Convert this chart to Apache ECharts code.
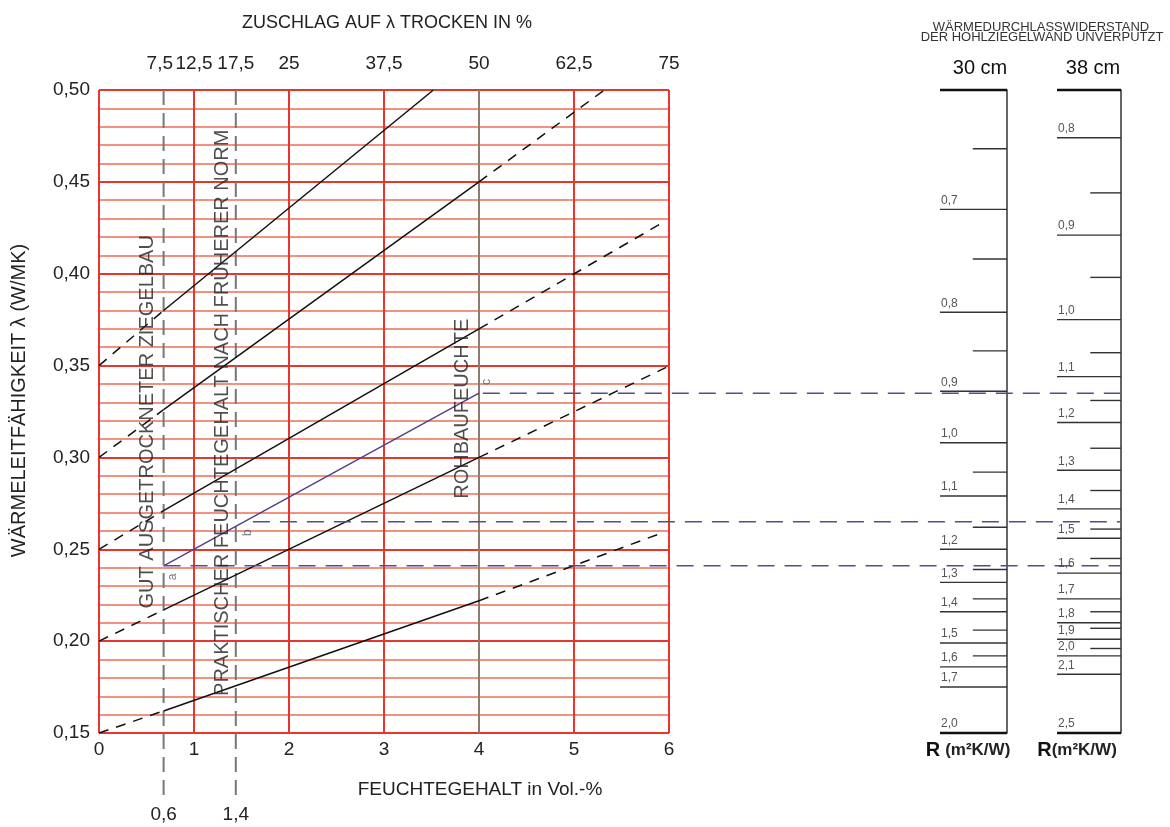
<!DOCTYPE html>
<html>
<head>
<meta charset="utf-8">
<script src="https://cdn.jsdelivr.net/npm/echarts@6/dist/echarts.min.js"></script>
<style>html,body{margin:0;padding:0;background:#fff}#c{width:1170px;height:827px}</style>
</head>
<body>
<div id="c"></div>
<script>
// ---------- data ----------
const xTickLabels = ['0','1','2','3','4','5','6'];
const topTickPos = [0.64, 1, 1.44, 2, 3, 4, 5, 6];
const topTickLabels = ['7,5','12,5','17,5','25','37,5','50','62,5','75'];
const markPos = [0.68, 1.44];
const markLabels = ['0,6','1,4'];
const markLineBottom = 0.116;

// lambda lines: points and style of each segment
const line035 = [[0,0.35],[0.68,0.38],[3.52,0.50]];
const style035 = ['dashed','solid'];
const line030 = [[0,0.30],[0.68,0.326],[4,0.45],[5.32,0.50]];
const style030 = ['dashed','solid','dashed'];
const line025 = [[0,0.25],[0.68,0.271],[4,0.37],[5.94,0.428]];
const style025 = ['dashed','solid','dashed'];
const line020 = [[0,0.20],[0.68,0.217],[4,0.30],[5.97,0.349]];
const style020 = ['dashed','solid','dashed'];
const line015 = [[0,0.15],[0.68,0.162],[4,0.222],[5.93,0.259]];
const style015 = ['dashed','solid','dashed'];
const linePurple = [[0.68,0.241],[4,0.335]];

// horizontal reference levels (lambda) carried over to the R scales
const refLevels = [0.335, 0.265, 0.241];
const refStarts = [4.04, 1.62, 0.68];
const refEnd = 10.75;

// annotations
const annoText = ['GUT AUSGETROCKNETER ZIEGELBAU','PRAKTISCHER FEUCHTEGEHALT NACH FRÜHERER NORM','ROHBAUFEUCHTE'];
const annoPos = [[0.515,0.3194],[1.30,0.3243],[3.83,0.3265]];
const letterText = ['a','b','c'];
const letterPos = [[0.78,0.235],[1.57,0.259],[4.08,0.341]];

// R scales (tick position expressed on the lambda axis), kind: 0 major, 1 minor, 2 end
const r30Pos = [0.50,0.468,0.435,0.408,0.379,0.358,0.336,0.308,0.292,0.279,0.262,0.250,0.239,0.232,0.223,0.216,0.206,0.199,0.192,0.186,0.175,0.15];
const r30Kind = [2,1,0,1,0,1,0,0,1,0,1,0,1,0,1,0,1,0,1,0,0,2];
const r30Labels = ['','','0,7','','0,8','','0,9','1,0','','1,1','','1,2','','1,3','','1,4','','1,5','','1,6','1,7','2,0'];
const r38Pos = [0.50,0.474,0.444,0.421,0.398,0.375,0.357,0.344,0.331,0.319,0.305,0.293,0.282,0.272,0.261,0.256,0.245,0.237,0.223,0.216,0.210,0.207,0.201,0.196,0.192,0.182,0.15];
const r38Kind = [2,0,1,0,1,0,1,0,1,0,1,0,1,0,1,0,1,0,0,1,0,1,0,1,0,0,2];
const r38Labels = ['','0,8','','0,9','','1,0','','1,1','','1,2','','1,3','','1,4','','1,5','','1,6','1,7','','1,8','','1,9','','2,0','2,1','2,5'];

// ---------- chart ----------
const FONT = 'Liberation Sans, Arial, Helvetica, sans-serif';
const RED = '#e8362c';
const MINOR = '#f06e56';
const lookup = (pos, labels) => v => { const i = pos.findIndex(p => Math.abs(p - v) < 1e-6); return i >= 0 ? labels[i] : ''; };

const series = [];
function addCurve(pts, styles, color, width) {
  for (let i = 0; i < pts.length - 1; i++) {
    series.push({
      type: 'line', xAxisIndex: 0, yAxisIndex: 0, data: [pts[i], pts[i+1]],
      symbol: 'none', silent: true, z: 5,
      lineStyle: { color: color, width: width, type: styles[i] === 'dashed' ? [10, 8] : 'solid' }
    });
  }
}
addCurve(line035, style035, '#111', 1.5);
addCurve(line030, style030, '#111', 1.5);
addCurve(line025, style025, '#111', 1.5);
addCurve(line020, style020, '#111', 1.5);
addCurve(line015, style015, '#111', 1.5);
addCurve(linePurple, ['solid'], '#4f3f8c', 1.4);

markPos.forEach(p => {
  series.push({
    type: 'line', xAxisIndex: 0, yAxisIndex: 0, clip: false, symbol: 'none', silent: true, z: 4,
    data: [[p, 0.50], [p, markLineBottom]],
    lineStyle: { color: '#777', width: 2, type: [15, 8] }
  });
});

refLevels.forEach((lv, i) => {
  series.push({
    type: 'line', xAxisIndex: 3, yAxisIndex: 1, symbol: 'none', silent: true, z: 6,
    data: [[refStarts[i], lv], [refEnd, lv]],
    lineStyle: { color: '#5b4a8b', width: 1.5, type: [17, 10] }
  });
});

series.push({
  type: 'scatter', xAxisIndex: 0, yAxisIndex: 0, symbolSize: 0, silent: true, z: 7,
  data: annoPos,
  label: { show: true, position: 'inside', rotate: 90, color: '#222', fontSize: 20, fontFamily: FONT,
    formatter: p => annoText[p.dataIndex] }
});
series.push({
  type: 'scatter', xAxisIndex: 0, yAxisIndex: 0, symbolSize: 0, silent: true, z: 7,
  data: letterPos,
  label: { show: true, position: 'inside', rotate: 90, color: '#555', fontSize: 12, fontFamily: FONT,
    formatter: p => letterText[p.dataIndex] }
});

function scaleSeries(axisIdx, pos, kinds, labels, minorStart) {
  return {
    type: 'custom', xAxisIndex: axisIdx.x, yAxisIndex: axisIdx.y, silent: true, z: 5,
    data: pos.map((p, i) => [0, p, kinds[i]]),
    encode: { x: 0, y: 1 },
    renderItem: (params, api) => {
      const y = api.value(1), k = api.value(2);
      const a = api.coord([k === 1 ? minorStart : 0, y]);
      const b = api.coord([1, y]);
      const children = [{
        type: 'line', shape: { x1: a[0], y1: a[1], x2: b[0], y2: b[1] },
        style: { stroke: k === 2 ? '#111' : '#333', lineWidth: k === 2 ? 2.5 : 1.4 }
      }];
      const lab = labels[params.dataIndex];
      if (lab) {
        children.push({ type: 'text', style: { text: lab, x: a[0] + 1, y: a[1] - 3, fill: '#555',
          fontSize: 12, fontFamily: FONT, align: 'left', verticalAlign: 'bottom' } });
      }
      return { type: 'group', children };
    }
  };
}
series.push(scaleSeries({x: 4, y: 2}, r30Pos, r30Kind, r30Labels, 0.49));
series.push(scaleSeries({x: 5, y: 3}, r38Pos, r38Kind, r38Labels, 0.52));

const hiddenAxis = { axisLine: {show:false}, axisTick: {show:false}, axisLabel: {show:false}, splitLine: {show:false} };

const option = {
  animation: false,
  backgroundColor: '#fff',
  textStyle: { fontFamily: FONT },
  title: [
    { text: 'WÄRMEDURCHLASSWIDERSTAND', left: 1041, top: 21, textAlign: 'center', padding: 0,
      textStyle: { fontSize: 13, fontWeight: 'normal', color: '#333', fontFamily: FONT } },
    { text: 'DER HOHLZIEGELWAND UNVERPUTZT', left: 1042, top: 31, textAlign: 'center', padding: 0,
      textStyle: { fontSize: 13, fontWeight: 'normal', color: '#333', fontFamily: FONT } },
    { text: '30 cm', left: 980, top: 58, textAlign: 'center', padding: 0,
      textStyle: { fontSize: 20, fontWeight: 'normal', color: '#111', fontFamily: FONT } },
    { text: '38 cm', left: 1093, top: 58, textAlign: 'center', padding: 0,
      textStyle: { fontSize: 20, fontWeight: 'normal', color: '#111', fontFamily: FONT } },
    { text: '{r|R} {u|(m²K/W)}', left: 968, top: 740, textAlign: 'center', padding: 0,
      textStyle: { rich: { r: { fontSize: 20, fontWeight: 'bold', color: '#111', fontFamily: FONT },
                           u: { fontSize: 17, fontWeight: 'bold', color: '#222', fontFamily: FONT } } } },
    { text: '{r|R}{u|(m²K/W)}', left: 1077, top: 740, textAlign: 'center', padding: 0,
      textStyle: { rich: { r: { fontSize: 20, fontWeight: 'bold', color: '#111', fontFamily: FONT },
                           u: { fontSize: 17, fontWeight: 'bold', color: '#222', fontFamily: FONT } } } }
  ],
  grid: [
    { left: 99, top: 90, width: 570, height: 643, outerBoundsMode: 'none' },
    { left: 99, top: 90, width: 1022, height: 643, outerBoundsMode: 'none' },
    { left: 940, top: 90, width: 67, height: 643, outerBoundsMode: 'none' },
    { left: 1057, top: 90, width: 64, height: 643, outerBoundsMode: 'none' }
  ],
  xAxis: [
    { type: 'value', gridIndex: 0, min: 0, max: 6, interval: 1, position: 'bottom',
      axisLine: {show:false}, axisTick: {show:false},
      axisLabel: { color: '#222', fontSize: 19, margin: 7, fontFamily: FONT, hideOverlap: false,
        formatter: v => xTickLabels[Math.round(v)] },
      splitLine: { show: true, lineStyle: { color: [RED,RED,RED,RED,'#8f7a70',RED,RED], width: 2 } },
      name: 'FEUCHTEGEHALT in Vol.-%', nameLocation: 'middle', nameGap: 47,
      nameTextStyle: { fontSize: 19, color: '#222', fontFamily: FONT, padding: [0,0,0,192] } },
    { type: 'value', gridIndex: 0, min: 0, max: 6, position: 'top',
      axisLine: {show:false}, axisTick: {show:false}, splitLine: {show:false},
      axisLabel: { customValues: topTickPos, color: '#222', fontSize: 19, margin: 17, fontFamily: FONT,
        hideOverlap: false, formatter: lookup(topTickPos, topTickLabels) },
      name: 'ZUSCHLAG AUF λ TROCKEN IN %', nameLocation: 'middle', nameGap: 58,
      nameTextStyle: { fontSize: 18, color: '#222', fontFamily: FONT, padding: [0,0,0,6] } },
    { type: 'value', gridIndex: 0, min: 0, max: 6, position: 'bottom', offset: 64,
      axisLine: {show:false}, axisTick: {show:false}, splitLine: {show:false},
      axisLabel: { customValues: markPos, color: '#222', fontSize: 19, margin: 8, fontFamily: FONT,
        hideOverlap: false, formatter: lookup(markPos, markLabels) } },
    Object.assign({ type: 'value', gridIndex: 1, min: 0, max: 10.758 }, hiddenAxis),
    Object.assign({ type: 'value', gridIndex: 2, min: 0, max: 1 }, hiddenAxis),
    Object.assign({ type: 'value', gridIndex: 3, min: 0, max: 1 }, hiddenAxis)
  ],
  yAxis: [
    { type: 'value', gridIndex: 0, min: 0.15, max: 0.50, interval: 0.05,
      axisLine: {show:false}, axisTick: {show:false},
      axisLabel: { color: '#222', fontSize: 19, margin: 9, fontFamily: FONT,
        formatter: v => v.toFixed(2).replace('.', ',') },
      splitLine: { show: true, lineStyle: { color: RED, width: 2 } },
      minorTick: { show: false, splitNumber: 5 },
      minorSplitLine: { show: true, lineStyle: { color: MINOR, width: 1.5 } },
      name: 'WÄRMELEITFÄHIGKEIT λ (W/MK)', nameLocation: 'middle', nameGap: 70, nameRotate: 90,
      nameTextStyle: { fontSize: 20, color: '#222', fontFamily: FONT, padding: [0,0,0,22] } },
    Object.assign({ type: 'value', gridIndex: 1, min: 0.15, max: 0.50 }, hiddenAxis),
    { type: 'value', gridIndex: 2, min: 0.15, max: 0.50, position: 'right',
      axisLine: { show: true, onZero: false, lineStyle: { color: '#333', width: 1.5 } },
      axisTick: {show:false}, axisLabel: {show:false}, splitLine: {show:false} },
    { type: 'value', gridIndex: 3, min: 0.15, max: 0.50, position: 'right',
      axisLine: { show: true, onZero: false, lineStyle: { color: '#333', width: 1.5 } },
      axisTick: {show:false}, axisLabel: {show:false}, splitLine: {show:false} }
  ],
  series: series
};

const chart = echarts.init(document.getElementById('c'), null, { renderer: 'canvas' });
chart.setOption(option);
</script>
</body>
</html>
